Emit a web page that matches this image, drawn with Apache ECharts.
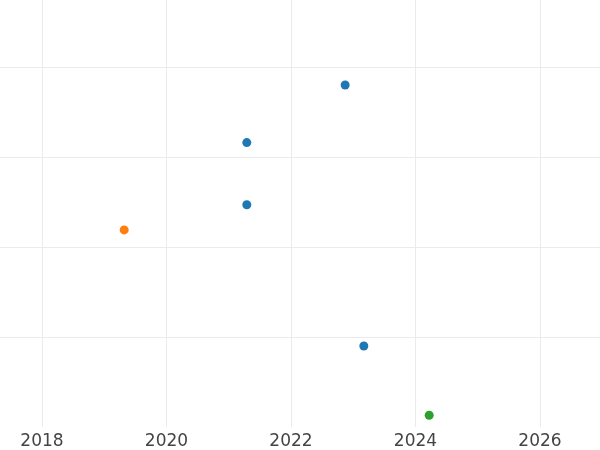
<!DOCTYPE html>
<html>
<head>
<meta charset="utf-8">
<script src="https://cdn.jsdelivr.net/npm/echarts@6/dist/echarts.min.js"></script>
<style>
  html, body { margin: 0; padding: 0; background: #fff; }
  #chart { width: 600px; height: 450px; }
</style>
</head>
<body>
<div id="chart"></div>
<script>
// points (x = year, y = unlabelled value)
const years  = [2022.87, 2021.29, 2021.29, 2019.32, 2023.17, 2024.22];
const values = [3.80, 3.16, 2.47, 2.19, 0.90, 0.13];
const groups = ['a', 'a', 'a', 'b', 'a', 'c'];

const groupNames  = ['a', 'b', 'c'];
const groupColors = ['#1f77b4', '#ff7f0e', '#2ca02c'];

const xTicksMin = 2016, xTicksMax = 2028, xStep = 2;
const yMin = 0, yMax = 5, yStep = 1;

let chart = echarts.init(document.getElementById('chart'));

let series = groupNames.map((g, gi) => {
    let data = [];
    for (let i = 0; i < years.length; i++) {
        if (groups[i] === g) data.push([years[i], values[i]]);
    }
    return {
        name: g,
        type: 'scatter',
        symbolSize: 9,
        itemStyle: { color: groupColors[gi], opacity: 1 },
        data: data
    };
});

chart.setOption({
    animation: false,
    backgroundColor: '#fff',
    // grid runs past the canvas so the visible window is ~2017.3..2027
    grid: { left: -82.5, width: 747, top: -23, bottom: 23, outerBoundsMode: 'none', containLabel: false },
    xAxis: {
        type: 'value',
        min: xTicksMin,
        max: xTicksMax,
        interval: xStep,
        axisLine: { show: false },
        axisTick: { show: false },
        axisLabel: {
            color: '#444',
            fontSize: 17,
            fontFamily: 'DejaVu Sans',
            margin: 6,
            formatter: v => String(v)
        },
        splitLine: { show: true, lineStyle: { color: '#ebebeb', width: 1 } }
    },
    yAxis: {
        type: 'value',
        min: yMin,
        max: yMax,
        interval: yStep,
        axisLine: { show: false },
        axisTick: { show: false },
        axisLabel: { show: false },
        splitLine: { show: true, showMinLine: false, lineStyle: { color: '#ebebeb', width: 1 } }
    },
    series: series
});
</script>
</body>
</html>
